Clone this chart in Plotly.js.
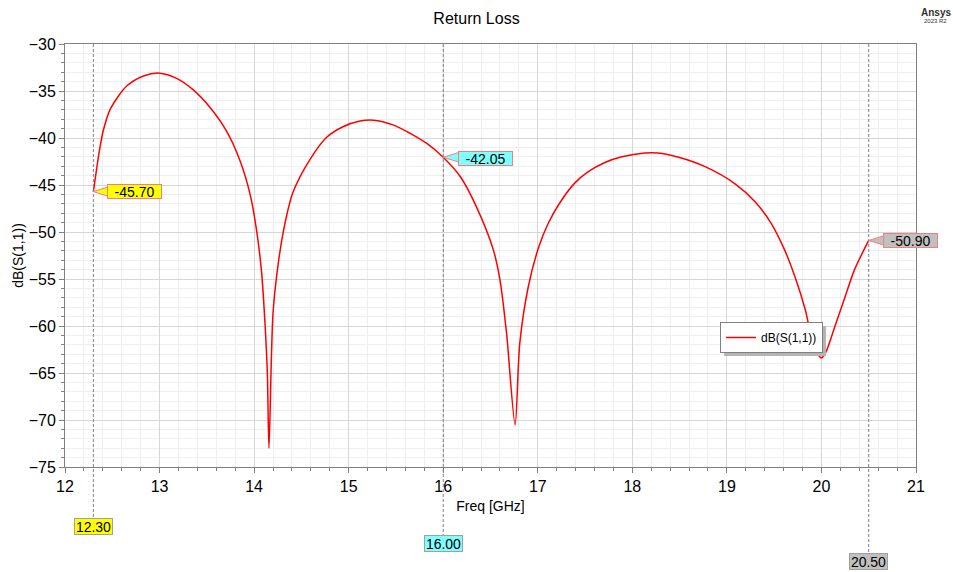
<!DOCTYPE html>
<html>
<head>
<meta charset="utf-8">
<script src="https://cdn.plot.ly/plotly-3.0.1.min.js"></script>
<style>html,body{margin:0;padding:0;background:#fff;}#chart{width:953px;height:572px;}</style>
</head>
<body>
<div id="chart"></div>
<script>
// Frequency (GHz) and dB(S(1,1)) values
const freq = [12.30, 12.34, 12.37, 12.405, 12.48, 12.65, 12.83, 13.00, 13.18, 13.36, 13.53, 13.71, 13.85, 13.96, 14.03, 14.08, 14.115, 14.14, 14.157,
  14.20, 14.26, 14.33, 14.41, 14.59, 14.77, 14.94, 15.12, 15.26, 15.47, 15.65, 15.83, 16.00, 16.18, 16.35, 16.53, 16.60, 16.67, 16.76,
  16.81, 16.90, 17.01, 17.11, 17.22, 17.39, 17.53, 17.71, 17.89, 18.13, 18.27, 18.49, 18.77, 19.09, 19.30, 19.47, 19.61, 19.72,
  19.83, 19.91, 20.00, 20.05, 20.14, 20.25, 20.35, 20.50];
const s11 = [-45.70, -42.9, -41.0, -39.2, -36.9, -34.5, -33.4, -33.1, -33.65, -34.9, -36.7, -39.3, -42.4, -46.1, -50.1, -54.4, -59.7, -65.0, -73.0,
  -58.65, -53.0, -48.9, -45.8, -42.3, -39.9, -38.8, -38.2, -38.1, -38.6, -39.5, -40.6, -42.05, -44.1, -47.3, -51.9, -55.1, -60.8, -70.5,
  -61.8, -55.8, -51.6, -49.1, -47.1, -44.8, -43.6, -42.6, -42.0, -41.6, -41.6, -42.05, -43.05, -44.9, -46.8, -49.1, -51.9, -54.75,
  -58.3, -61.8, -63.4, -62.7, -60.1, -56.9, -54.0, -50.90];

// Markers
const markerFreq = [12.30, 16.00, 20.50];
const markerVal = [-45.70, -42.05, -50.90];
const markerFreqLabels = ['12.30', '16.00', '20.50'];
const markerValLabels = ['-45.70', '-42.05', '-50.90'];
const markerColors = ['#ffff00', '#80ffff', '#c0c0c0'];

const font = '"Liberation Sans", Arial, sans-serif';

const trace = {
  x: freq, y: s11, type: 'scatter', mode: 'lines',
  name: 'dB(S(1,1))',
  line: {color: '#ff0000', width: 1.5, shape: 'spline', smoothing: 0.8}
};

// Marker line bottoms (paper coords) and label positions
const lineBottoms = [-0.1206, -0.1608, -0.2033];
const labelY = [-0.1407, -0.1809, -0.2234];
const calloutAx = [41, 42.5, 41.5];
const calloutAy = [0, 1, 0];

const shapes = [];
const annotations = [];
for (let i = 0; i < markerFreq.length; i++) {
  shapes.push({type: 'line', xref: 'x', yref: 'paper', x0: markerFreq[i], x1: markerFreq[i], y0: 1, y1: lineBottoms[i],
    line: {color: '#808080', width: 1, dash: '3px,2px'}, layer: 'above'});
  shapes.push({type: 'path', xref: 'x', yref: 'y', xsizemode: 'pixel', ysizemode: 'pixel',
    xanchor: markerFreq[i], yanchor: markerVal[i], path: 'M0,0 L16,5 L16,-5 Z',
    fillcolor: markerColors[i], line: {color: '#f08080', width: 1}, layer: 'above'});
  annotations.push({x: markerFreq[i], y: markerVal[i], xref: 'x', yref: 'y', text: markerValLabels[i],
    showarrow: true, ax: calloutAx[i], ay: calloutAy[i], arrowcolor: 'rgba(0,0,0,0)',
    bgcolor: markerColors[i], bordercolor: '#f08080', borderwidth: 1, borderpad: 0,
    width: 53, height: 13, font: {family: font, size: 14, color: '#000'}});
  annotations.push({x: markerFreq[i], y: labelY[i], xref: 'x', yref: 'paper', xanchor: 'center', yanchor: 'middle',
    text: markerFreqLabels[i],
    showarrow: false, bgcolor: markerColors[i], bordercolor: '#a0a0a0', borderwidth: 1, borderpad: 0,
    width: 37, height: 15, font: {family: font, size: 14, color: '#000'}});
}
// legend shadow
shapes.push({type: 'rect', xref: 'paper', yref: 'paper', x0: 0.7744, x1: 0.8942, y0: 0.2624, y1: 0.3333,
  fillcolor: '#b4b4b4', line: {width: 0}, layer: 'above'});

annotations.push({xref: 'paper', yref: 'paper', x: 1.0235, y: 1.0733, xanchor: 'center', yanchor: 'middle',
  text: '<b>Ansys</b>', showarrow: false, font: {family: font, size: 10, color: '#333'}});
annotations.push({xref: 'paper', yref: 'paper', x: 1.0235, y: 1.0544, xanchor: 'center', yanchor: 'middle',
  text: '2023 R2', showarrow: false, font: {family: font, size: 6, color: '#333'}});

const layout = {
  width: 953, height: 572,
  margin: {l: 65, r: 37, t: 44, b: 105},
  paper_bgcolor: '#ffffff', plot_bgcolor: '#ffffff',
  font: {family: font, color: '#000'},
  title: {text: 'Return Loss', font: {family: font, size: 16, color: '#000'}, x: 0.5, xanchor: 'center', y: 0.968, yanchor: 'middle'},
  xaxis: {
    range: [12, 21], dtick: 1, tick0: 12,
    title: {text: 'Freq [GHz]', font: {family: font, size: 14}, standoff: 6},
    tickfont: {family: font, size: 16},
    ticks: 'outside', ticklen: 5, tickcolor: '#808080',
    showline: true, linecolor: '#808080', linewidth: 1, mirror: true,
    showgrid: true, gridcolor: '#d6d6d6', gridwidth: 1, zeroline: false,
    minor: {dtick: 0.2, showgrid: true, gridcolor: '#efefef', ticks: 'outside', ticklen: 3, tickcolor: '#808080'}
  },
  yaxis: {
    range: [-75, -30], dtick: 5, tick0: -30,
    title: {text: 'dB(S(1,1))', font: {family: font, size: 14}, standoff: 1},
    tickfont: {family: font, size: 16},
    ticks: 'outside', ticklen: 5, tickcolor: '#808080',
    showline: true, linecolor: '#808080', linewidth: 1, mirror: true,
    showgrid: true, gridcolor: '#d6d6d6', gridwidth: 1, zeroline: false,
    minor: {dtick: 1, showgrid: true, gridcolor: '#efefef', ticks: 'outside', ticklen: 3, tickcolor: '#808080'}
  },
  showlegend: true,
  legend: {x: 0.7697, y: 0.3428, xanchor: 'left', yanchor: 'top', bgcolor: '#ffffff', bordercolor: '#808080', borderwidth: 1,
    font: {family: font, size: 12, color: '#000'}, itemwidth: 30, tracegroupgap: 0},
  shapes: shapes,
  annotations: annotations
};

Plotly.newPlot('chart', [trace], layout, {displayModeBar: false, staticPlot: true});
</script>
</body>
</html>
